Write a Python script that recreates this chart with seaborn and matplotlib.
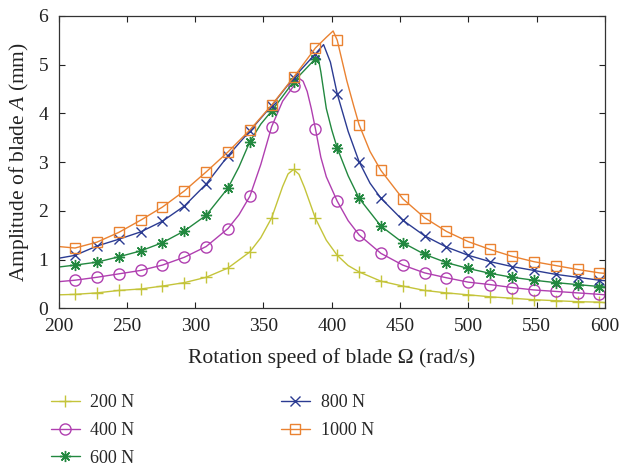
import numpy as np
import pandas as pd
import matplotlib
matplotlib.use('Agg')
import matplotlib.pyplot as plt
import seaborn as sns
from matplotlib.lines import Line2D

# marker positions (rad/s)
marker_x = [212, 228, 244, 260, 276, 292, 308, 324, 340, 356, 372, 388, 404,
            420, 436, 452, 468, 484, 500, 516, 532, 548, 564, 580, 596]

# amplitudes at the marker positions (mm)
amp_200 = [0.29, 0.32, 0.37, 0.40, 0.46, 0.53, 0.64, 0.83, 1.16, 1.86, 2.85, 1.85, 1.09,
           0.75, 0.56, 0.46, 0.37, 0.32, 0.28, 0.24, 0.21, 0.18, 0.16, 0.14, 0.13]
amp_400 = [0.58, 0.64, 0.71, 0.78, 0.89, 1.05, 1.27, 1.64, 2.30, 3.73, 4.56, 3.69, 2.20,
           1.51, 1.13, 0.89, 0.73, 0.63, 0.54, 0.49, 0.43, 0.38, 0.35, 0.32, 0.29]
amp_600 = [0.89, 0.95, 1.06, 1.18, 1.35, 1.59, 1.91, 2.47, 3.42, 4.05, 4.65, 5.12, 3.29,
           2.26, 1.69, 1.35, 1.11, 0.94, 0.82, 0.72, 0.64, 0.58, 0.53, 0.49, 0.45]
amp_800 = [1.09, 1.28, 1.42, 1.57, 1.79, 2.10, 2.55, 3.13, 3.64, 4.16, 4.73, 5.22, 4.40,
           3.01, 2.26, 1.81, 1.49, 1.26, 1.09, 0.96, 0.86, 0.78, 0.70, 0.64, 0.58]
amp_1000 = [1.24, 1.36, 1.56, 1.81, 2.08, 2.41, 2.80, 3.21, 3.66, 4.17, 4.74, 5.34, 5.50,
            3.77, 2.83, 2.25, 1.86, 1.58, 1.37, 1.21, 1.07, 0.96, 0.88, 0.80, 0.73]

# extra curve points read near the ends and the resonance peaks
extra_200_x = [200, 348, 364, 368, 376, 380, 396, 412, 600]
extra_200_y = [0.28, 1.45, 2.50, 2.76, 2.75, 2.48, 1.40, 0.88, 0.12]
extra_400_x = [200, 332, 348, 364, 376, 379, 382, 385, 392, 396, 412, 600]
extra_400_y = [0.55, 1.92, 2.95, 4.25, 4.72, 4.66, 4.45, 4.10, 3.10, 2.70, 1.80, 0.28]
extra_600_x = [200, 332, 348, 390, 392, 396, 400, 412, 600]
extra_600_y = [0.85, 2.90, 3.78, 5.15, 4.85, 4.10, 3.66, 2.72, 0.44]
extra_800_x = [200, 394, 399, 412, 428, 600]
extra_800_y = [1.03, 5.41, 5.05, 3.63, 2.57, 0.57]
extra_1000_x = [200, 396, 401, 411, 416, 428, 600]
extra_1000_y = [1.27, 5.56, 5.69, 4.67, 4.16, 3.22, 0.72]

labels = ['200 N', '400 N', '600 N', '800 N', '1000 N']
colors = ['#c4c43a', '#b03fb0', '#22883f', '#2b3b92', '#ea8231']
markers = ['+', 'o', (8, 2, 0), 'x', 's']
msizes = [9, 8, 8, 7, 7]

amps = [amp_200, amp_400, amp_600, amp_800, amp_1000]
extras = [(extra_200_x, extra_200_y), (extra_400_x, extra_400_y), (extra_600_x, extra_600_y),
          (extra_800_x, extra_800_y), (extra_1000_x, extra_1000_y)]

sns.set_theme(style='ticks')
plt.rcParams['font.family'] = ['Liberation Serif', 'DejaVu Serif']
plt.rcParams['mathtext.fontset'] = 'custom'
plt.rcParams['mathtext.rm'] = 'Liberation Serif'
plt.rcParams['mathtext.it'] = 'Liberation Serif:italic'

fig = plt.figure(figsize=(6.21, 4.66), dpi=100)
ax = fig.add_axes([0.0945, 0.338, 0.8795, 0.628])

for lab, c, m, ms, amp, (ex, ey) in zip(labels, colors, markers, msizes, amps, extras):
    curve = pd.DataFrame({'x': marker_x + ex, 'y': amp + ey}).sort_values('x')
    sns.lineplot(data=curve, x='x', y='y', color=c, lw=1.0, ax=ax, sort=True, legend=False)
    pts = pd.DataFrame({'x': marker_x, 'y': amp})
    sns.lineplot(data=pts, x='x', y='y', ax=ax, legend=False, linestyle='', marker=m,
                 markersize=ms, markerfacecolor='none', markeredgecolor=c,
                 markeredgewidth=1.0, color=c)

ax.set_xlim(200, 600)
ax.set_ylim(0, 6)
ax.set_xticks(np.arange(200, 601, 50))
ax.set_yticks(np.arange(0, 7, 1))
ax.tick_params(direction='in', top=True, right=True, length=4, width=0.8,
               labelsize=14, colors='#222222')
ax.tick_params(axis='x', pad=6.5)
ax.tick_params(axis='y', pad=7.5)
for s in ax.spines.values():
    s.set_linewidth(0.9)
    s.set_color('#333333')
ax.set_xlabel('Rotation speed of blade Ω (rad/s)', fontsize=15.5, color='#222222', labelpad=10)
ax.set_ylabel(r'Amplitude of blade $\mathit{A}$ (mm)', fontsize=15.5, color='#222222', labelpad=5)

handles = [Line2D([], [], color=c, lw=1.0, marker=m, markersize=ms, markerfacecolor='none',
                  markeredgecolor=c) for c, m, ms in zip(colors, markers, msizes)]
fig.legend(handles, labels, ncol=2, loc='upper left', bbox_to_anchor=(0.07, 0.17),
           frameon=False, fontsize=13, handlelength=1.6, handletextpad=0.6,
           columnspacing=8.1, labelspacing=0.6, borderaxespad=0)

fig.savefig('out.png', dpi=100)
